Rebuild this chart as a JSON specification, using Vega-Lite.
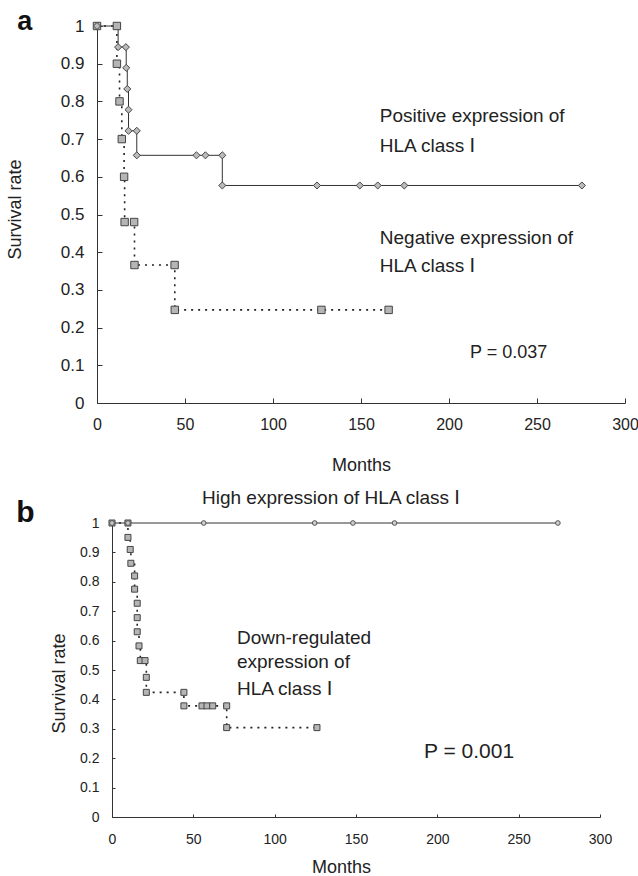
{
  "$schema": "https://vega.github.io/schema/vega-lite/v6.json",
  "background": "white",
  "padding": {"left": 6, "top": 8, "right": 0, "bottom": 0},
  "spacing": 15,
  "config": {"view": {"stroke": null}, "font": "Liberation Sans", "axis": {"labelFlush": false}},
  "datasets": {
    "km": [
      {"panel": "a", "group": "pos", "i": 1, "month": 0, "surv": 1},
      {"panel": "a", "group": "pos", "i": 2, "month": 12, "surv": 0.944},
      {"panel": "a", "group": "pos", "i": 3, "month": 16.4, "surv": 0.944},
      {"panel": "a", "group": "pos", "i": 4, "month": 16.6, "surv": 0.889},
      {"panel": "a", "group": "pos", "i": 5, "month": 17.2, "surv": 0.833},
      {"panel": "a", "group": "pos", "i": 6, "month": 17.9, "surv": 0.778},
      {"panel": "a", "group": "pos", "i": 7, "month": 17.9, "surv": 0.722},
      {"panel": "a", "group": "pos", "i": 8, "month": 22.6, "surv": 0.722},
      {"panel": "a", "group": "pos", "i": 9, "month": 22.6, "surv": 0.657},
      {"panel": "a", "group": "pos", "i": 10, "month": 56.5, "surv": 0.657},
      {"panel": "a", "group": "pos", "i": 11, "month": 61.6, "surv": 0.657},
      {"panel": "a", "group": "pos", "i": 12, "month": 71.2, "surv": 0.657},
      {"panel": "a", "group": "pos", "i": 13, "month": 71.2, "surv": 0.577},
      {"panel": "a", "group": "pos", "i": 14, "month": 125, "surv": 0.577},
      {"panel": "a", "group": "pos", "i": 15, "month": 149.3, "surv": 0.577},
      {"panel": "a", "group": "pos", "i": 16, "month": 159.5, "surv": 0.577},
      {"panel": "a", "group": "pos", "i": 17, "month": 174.6, "surv": 0.577},
      {"panel": "a", "group": "pos", "i": 18, "month": 275.5, "surv": 0.577},
      {"panel": "a", "group": "neg", "i": 1, "month": 0, "surv": 1},
      {"panel": "a", "group": "neg", "i": 2, "month": 11.3, "surv": 1},
      {"panel": "a", "group": "neg", "i": 3, "month": 11.3, "surv": 0.9},
      {"panel": "a", "group": "neg", "i": 4, "month": 12.8, "surv": 0.8},
      {"panel": "a", "group": "neg", "i": 5, "month": 14.1, "surv": 0.7},
      {"panel": "a", "group": "neg", "i": 6, "month": 15.4, "surv": 0.6},
      {"panel": "a", "group": "neg", "i": 7, "month": 15.7, "surv": 0.48},
      {"panel": "a", "group": "neg", "i": 8, "month": 21.1, "surv": 0.48},
      {"panel": "a", "group": "neg", "i": 9, "month": 21.3, "surv": 0.366},
      {"panel": "a", "group": "neg", "i": 10, "month": 44.1, "surv": 0.366},
      {"panel": "a", "group": "neg", "i": 11, "month": 44.2, "surv": 0.247},
      {"panel": "a", "group": "neg", "i": 12, "month": 127.5, "surv": 0.247},
      {"panel": "a", "group": "neg", "i": 13, "month": 165.7, "surv": 0.247},
      {"panel": "b", "group": "high", "i": 1, "month": 0, "surv": 1},
      {"panel": "b", "group": "high", "i": 2, "month": 9.8, "surv": 1},
      {"panel": "b", "group": "high", "i": 3, "month": 56.4, "surv": 1},
      {"panel": "b", "group": "high", "i": 4, "month": 124.6, "surv": 1},
      {"panel": "b", "group": "high", "i": 5, "month": 148.1, "surv": 1},
      {"panel": "b", "group": "high", "i": 6, "month": 173.7, "surv": 1},
      {"panel": "b", "group": "high", "i": 7, "month": 274.1, "surv": 1},
      {"panel": "b", "group": "down", "i": 1, "month": 0, "surv": 1},
      {"panel": "b", "group": "down", "i": 2, "month": 9.8, "surv": 1},
      {"panel": "b", "group": "down", "i": 3, "month": 9.8, "surv": 0.951},
      {"panel": "b", "group": "down", "i": 4, "month": 11.2, "surv": 0.91},
      {"panel": "b", "group": "down", "i": 5, "month": 11.6, "surv": 0.863},
      {"panel": "b", "group": "down", "i": 6, "month": 13.9, "surv": 0.82},
      {"panel": "b", "group": "down", "i": 7, "month": 13.9, "surv": 0.775},
      {"panel": "b", "group": "down", "i": 8, "month": 15.5, "surv": 0.727},
      {"panel": "b", "group": "down", "i": 9, "month": 15.5, "surv": 0.678},
      {"panel": "b", "group": "down", "i": 10, "month": 15.5, "surv": 0.63},
      {"panel": "b", "group": "down", "i": 11, "month": 16.6, "surv": 0.582},
      {"panel": "b", "group": "down", "i": 12, "month": 17.4, "surv": 0.532},
      {"panel": "b", "group": "down", "i": 13, "month": 20.3, "surv": 0.532},
      {"panel": "b", "group": "down", "i": 14, "month": 21.1, "surv": 0.475},
      {"panel": "b", "group": "down", "i": 15, "month": 21.1, "surv": 0.424},
      {"panel": "b", "group": "down", "i": 16, "month": 44.2, "surv": 0.424},
      {"panel": "b", "group": "down", "i": 17, "month": 44.2, "surv": 0.378},
      {"panel": "b", "group": "down", "i": 18, "month": 55.3, "surv": 0.378},
      {"panel": "b", "group": "down", "i": 19, "month": 58.4, "surv": 0.378},
      {"panel": "b", "group": "down", "i": 20, "month": 61.9, "surv": 0.378},
      {"panel": "b", "group": "down", "i": 21, "month": 70.5, "surv": 0.378},
      {"panel": "b", "group": "down", "i": 22, "month": 70.5, "surv": 0.304},
      {"panel": "b", "group": "down", "i": 23, "month": 126, "surv": 0.304}
    ]
  },
  "vconcat": [
    {
      "width": 528,
      "height": 377,
      "encoding": {
        "x": {"field": "month", "type": "quantitative",
          "scale": {"domain": [0, 300], "nice": false, "zero": false},
          "axis": {"title": "Months", "values": [0, 50, 100, 150, 200, 250, 300], "grid": false,
            "tickSize": -5, "tickColor": "#333", "domainColor": "#333", "labelPadding": 18,
            "labelFontSize": 16, "labelColor": "#222", "titleFontSize": 18, "titleFontWeight": "normal",
            "titleColor": "#222", "titlePadding": 24}},
        "y": {"field": "surv", "type": "quantitative",
          "scale": {"domain": [0, 1], "nice": false},
          "axis": {"title": "Survival rate", "values": [0, 0.1, 0.2, 0.3, 0.4, 0.5, 0.6, 0.7, 0.8, 0.9, 1],
            "format": "~g", "grid": false, "tickSize": -5, "tickColor": "#333", "domainColor": "#333",
            "labelPadding": 18, "labelFontSize": 17, "labelColor": "#222", "titleFontSize": 18,
            "titleFontWeight": "normal", "titleColor": "#222", "titlePadding": 36, "titleY": 183}}
      },
      "layer": [
        {"data": {"name": "km"}, "transform": [{"filter": "datum.group == 'neg'"}],
          "mark": {"type": "line", "interpolate": "step-after", "color": "#222", "strokeWidth": 1.6, "strokeDash": [2, 5]},
          "encoding": {"order": {"field": "i", "type": "quantitative"}}},
        {"data": {"name": "km"}, "transform": [{"filter": "datum.group == 'pos'"}],
          "mark": {"type": "line", "interpolate": "step-after", "color": "#333", "strokeWidth": 1},
          "encoding": {"order": {"field": "i", "type": "quantitative"}}},
        {"data": {"name": "km"}, "transform": [{"filter": "datum.group == 'neg'"}],
          "mark": {"type": "point", "shape": "square", "filled": true, "size": 55, "fill": "#b5b5b5", "stroke": "#444", "strokeWidth": 1, "opacity": 1}},
        {"data": {"name": "km"}, "transform": [{"filter": "datum.group == 'pos'"}],
          "mark": {"type": "point", "shape": "diamond", "filled": true, "size": 50, "fill": "#bbbbbb", "stroke": "#444", "strokeWidth": 1, "opacity": 1}},
        {"data": {"values": [
            {"note": "Positive expression of", "month": 160.7, "surv": 0.761},
            {"note": "HLA class Ⅰ", "month": 160.7, "surv": 0.682},
            {"note": "Negative expression of", "month": 160.7, "surv": 0.438},
            {"note": "HLA class Ⅰ", "month": 160.7, "surv": 0.363}]},
          "mark": {"type": "text", "align": "left", "baseline": "middle", "fontSize": 19, "font": "Liberation Sans, DejaVu Sans", "color": "#222"},
          "encoding": {"text": {"field": "note"}}},
        {"data": {"values": [{"note": "P = 0.037", "month": 212, "surv": 0.133}]},
          "mark": {"type": "text", "align": "left", "baseline": "middle", "fontSize": 18, "font": "Liberation Sans", "color": "#222"},
          "encoding": {"text": {"field": "note"}}},
        {"data": {"values": [{"note": "a", "month": -41, "surv": 1.01}]},
          "mark": {"type": "text", "align": "center", "baseline": "middle", "fontSize": 27, "fontWeight": "bold", "font": "Liberation Sans", "color": "#111"},
          "encoding": {"text": {"field": "note"}}}
      ]
    },
    {
      "width": 503,
      "height": 294,
      "encoding": {
        "x": {"field": "month", "type": "quantitative",
          "scale": {"domain": [0, 300], "nice": false, "zero": false, "range": [15, 503]},
          "axis": {"title": "Months", "values": [0, 50, 100, 150, 200, 250, 300], "grid": false,
            "tickSize": -3, "tickColor": "#333", "domainColor": "#333", "labelPadding": 18,
            "labelFontSize": 14, "labelColor": "#222", "titleFontSize": 18, "titleFontWeight": "normal",
            "titleColor": "#222", "titlePadding": 12, "titleX": 244}},
        "y": {"field": "surv", "type": "quantitative",
          "scale": {"domain": [0, 1], "nice": false},
          "axis": {"title": "Survival rate", "values": [0, 0.1, 0.2, 0.3, 0.4, 0.5, 0.6, 0.7, 0.8, 0.9, 1],
            "format": "~g", "grid": false, "tickSize": -3, "tickColor": "#333", "domainColor": "#333",
            "offset": -15,
            "labelPadding": 16, "labelFontSize": 14, "labelColor": "#222", "titleFontSize": 18,
            "titleFontWeight": "normal", "titleColor": "#222", "titlePadding": 11, "titleY": 160}}
      },
      "layer": [
        {"data": {"name": "km"}, "transform": [{"filter": "datum.group == 'down'"}],
          "mark": {"type": "line", "interpolate": "step-after", "color": "#222", "strokeWidth": 1.6, "strokeDash": [2, 5]},
          "encoding": {"order": {"field": "i", "type": "quantitative"}}},
        {"data": {"name": "km"}, "transform": [{"filter": "datum.group == 'high'"}],
          "mark": {"type": "line", "interpolate": "step-after", "color": "#333", "strokeWidth": 1},
          "encoding": {"order": {"field": "i", "type": "quantitative"}}},
        {"data": {"name": "km"}, "transform": [{"filter": "datum.group == 'down'"}],
          "mark": {"type": "point", "shape": "square", "filled": true, "size": 36, "fill": "#b5b5b5", "stroke": "#444", "strokeWidth": 1, "opacity": 1}},
        {"data": {"name": "km"}, "transform": [{"filter": "datum.group == 'high'"}],
          "mark": {"type": "point", "shape": "circle", "filled": true, "size": 22, "fill": "#cccccc", "stroke": "#555", "strokeWidth": 1, "opacity": 1}},
        {"data": {"values": [
            {"note": "High expression of HLA class Ⅰ", "month": 55.3, "surv": 1.085},
            {"note": "Down-regulated", "month": 76.8, "surv": 0.609},
            {"note": "expression of", "month": 76.8, "surv": 0.527},
            {"note": "HLA class Ⅰ", "month": 76.8, "surv": 0.435}]},
          "mark": {"type": "text", "align": "left", "baseline": "middle", "fontSize": 19, "font": "Liberation Sans, DejaVu Sans", "color": "#222"},
          "encoding": {"text": {"field": "note"}}},
        {"data": {"values": [{"note": "P = 0.001", "month": 191.8, "surv": 0.221}]},
          "mark": {"type": "text", "align": "left", "baseline": "middle", "fontSize": 21, "font": "Liberation Sans", "color": "#222"},
          "encoding": {"text": {"field": "note"}}},
        {"data": {"values": [{"note": "b", "month": -53.2, "surv": 1.034}]},
          "mark": {"type": "text", "align": "center", "baseline": "middle", "fontSize": 30, "fontWeight": "bold", "font": "Liberation Sans", "color": "#111"},
          "encoding": {"text": {"field": "note"}}}
      ]
    }
  ]
}
